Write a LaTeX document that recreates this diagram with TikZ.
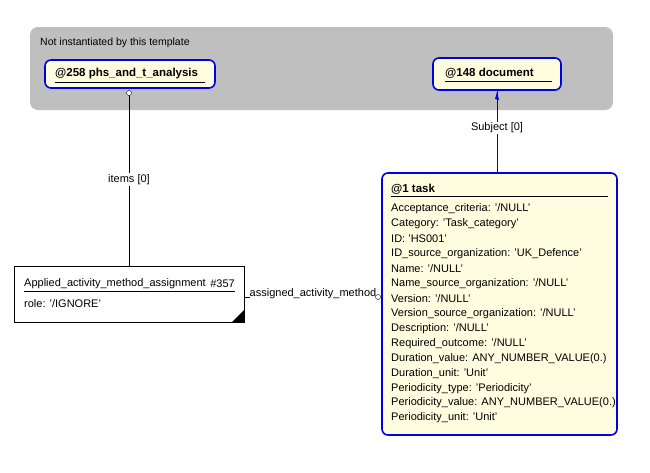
\documentclass[tikz,border=0pt]{standalone}
\usepackage{fontspec}
\setmainfont{Liberation Sans}
\begin{document}
\begin{tikzpicture}[x=1pt,y=-1pt,
  txt/.style={font=\fontsize{11pt}{12pt}\selectfont,inner sep=0pt,anchor=west},
  btxt/.style={font=\fontsize{11.5pt}{12pt}\selectfont\bfseries,inner sep=0pt,anchor=west},
  ent/.style={draw=blue!90!black,line width=1.6pt,fill=yellow!12,rounded corners=6pt},
  lbl/.style={font=\fontsize{11pt}{12pt}\selectfont,fill=white,inner sep=1pt}]
\useasboundingbox (0,0) rectangle (650,472);
\fill[gray!50,rounded corners=8pt] (30,27) rectangle (613,110);
\node[font=\fontsize{10.5pt}{12pt}\selectfont,inner sep=0pt,anchor=west] (nt) at (40,43) {Not instantiated by this template};
\draw[ent] (45,60) rectangle (215,88);
\node[btxt] (a258) at (55,74) {@258 phs\_and\_t\_analysis};
\draw (55,82) -- (205,82);
\draw[ent] (433,58) rectangle (561,90);
\node[btxt] (a148) at (445,73) {@148 document};
\draw (445,81) -- (552,81);
\coordinate (d148) at (497,91);
\draw[ent] (382,173) rectangle (617,435);
\node[btxt] (a1) at (391,189) {@1 task};
\draw (391,196) -- (608,196);
\foreach \t [count=\i from 0] in {Acceptance\_criteria: '/NULL',Category: 'Task\_category',ID: 'HS001',ID\_source\_organization: 'UK\_Defence',Name: '/NULL',Name\_source\_organization: '/NULL',Version: '/NULL',Version\_source\_organization: '/NULL',Description: '/NULL',Required\_outcome: '/NULL',Duration\_value: ANY\_NUMBER\_VALUE(0.),Duration\_unit: 'Unit',Periodicity\_type: 'Periodicity',Periodicity\_value: ANY\_NUMBER\_VALUE(0.),Periodicity\_unit: 'Unit'}
  \node[txt] at (391,{209+\i*14.93}) {\t};
\coordinate (t1) at (497,173);
\draw[fill=white] (14,266) rectangle (244,322);
\fill (244,322) -- (244,310) -- (232,322) -- cycle;
\node[txt] (app) at (24,284) {Applied\_activity\_method\_assignment};
\node[txt,anchor=east] (n357) at (235,284) {\#357};
\draw (24,291) -- (235,291);
\node[txt] (role) at (24,304) {role: '/IGNORE'};
\coordinate (appt) at (129,266);
\coordinate (appr) at (244,297);
\coordinate (c258) at (129,93);
\coordinate (ctask) at (378,297);
\draw (c258) -- node[lbl] {items [0]} (appt);
\draw[fill=white] (c258) circle (2.5);
\draw (appr) -- (ctask);
\node[font=\fontsize{11pt}{12pt}\selectfont,inner sep=0pt,fill=white] (aam) at (313,294) {assigned\_activity\_method};
\draw[fill=white] (ctask) circle (2.5);
\draw[blue!90!black,line width=0.8pt] (t1) -- (d148);
\fill[blue!90!black] (d148) ++(-2,8) -- (497,92) -- (499,100) -- cycle;
\node[lbl] (subj) at (497,128) {Subject [0]};
\end{tikzpicture}
\end{document}
